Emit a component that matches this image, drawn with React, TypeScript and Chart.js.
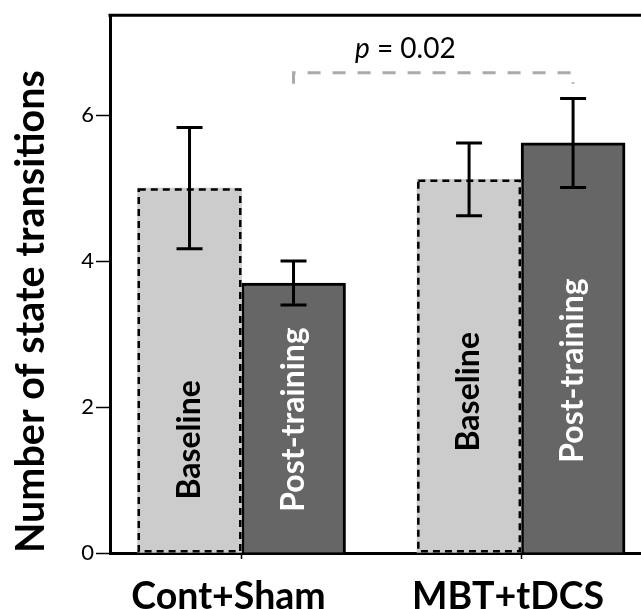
import React, { useEffect, useRef } from "react";
import { Chart, registerables } from "chart.js";

Chart.register(...registerables);

// ---- data ----
const groups = ["Cont+Sham", "MBT+tDCS"];
const seriesNames = ["Baseline", "Post-training"];
const baselineMeans = [5.0, 5.12];
const baselineErr = [0.83, 0.5];
const postMeans = [3.7, 5.62];
const postErr = [0.3, 0.61];
const yTicks = [0, 2, 4, 6];
const yTitle = "Number of state transitions";
const pValueText = "0.02";

const FONT = 'Lato, "Noto Sans", sans-serif';

const annotations = {
  id: "annotations",
  afterDatasetsDraw(chart: any) {
    const { ctx, chartArea, scales } = chart;
    const y = scales.y;
    const m0 = chart.getDatasetMeta(0);
    const m1 = chart.getDatasetMeta(1);
    ctx.save();

    // top frame line
    ctx.strokeStyle = "#000";
    ctx.lineWidth = 3;
    ctx.setLineDash([]);
    ctx.beginPath();
    ctx.moveTo(chartArea.left - 1.5, chartArea.top);
    ctx.lineTo(chartArea.right, chartArea.top);
    ctx.stroke();

    // dashed outline of baseline bars
    ctx.setLineDash([7, 5]);
    ctx.lineWidth = 2.5;
    m0.data.forEach((bar: any) => {
      const { x, y: top, base, width } = bar.getProps(["x", "y", "base", "width"], true);
      ctx.strokeRect(x - width / 2 + 1.25, top + 1.25, width - 2.5, base - top - 2.5);
    });
    ctx.setLineDash([]);

    // labels inside bars
    const labelCenters = [
      [1.55, 2.21],
      [1.83, 2.5],
    ];
    const labelColors = ["#000", "#fff"];
    [m0, m1].forEach((meta: any, si: number) => {
      meta.data.forEach((bar: any, j: number) => {
        ctx.save();
        ctx.translate(bar.x, y.getPixelForValue(labelCenters[si][j]));
        ctx.rotate(-Math.PI / 2);
        ctx.font = `bold 32px ${FONT}`;
        ctx.fillStyle = labelColors[si];
        ctx.textAlign = "center";
        ctx.textBaseline = "middle";
        ctx.fillText(seriesNames[si], 0, 0);
        ctx.restore();
      });
    });

    // error bars
    const means = [baselineMeans, postMeans];
    const errs = [baselineErr, postErr];
    ctx.strokeStyle = "#000";
    ctx.lineWidth = 3;
    [m0, m1].forEach((meta: any, si: number) => {
      meta.data.forEach((bar: any, j: number) => {
        const hi = y.getPixelForValue(means[si][j] + errs[si][j]);
        const lo = y.getPixelForValue(means[si][j] - errs[si][j]);
        const x = bar.x;
        ctx.beginPath();
        ctx.moveTo(x, hi);
        ctx.lineTo(x, lo);
        ctx.moveTo(x - 13, hi);
        ctx.lineTo(x + 13, hi);
        ctx.moveTo(x - 13, lo);
        ctx.lineTo(x + 13, lo);
        ctx.stroke();
      });
    });

    // significance bracket between post-training bars
    const xL = m1.data[0].x;
    const xR = m1.data[1].x;
    const yb = y.getPixelForValue(6.58);
    const yd = y.getPixelForValue(6.43);
    ctx.strokeStyle = "#aaaaaa";
    ctx.lineWidth = 3;
    ctx.setLineDash([13, 12]);
    ctx.beginPath();
    ctx.moveTo(xL, yd);
    ctx.lineTo(xL, yb);
    ctx.lineTo(xR, yb);
    ctx.lineTo(xR, yd);
    ctx.stroke();
    ctx.setLineDash([]);

    // p value text
    const ty = y.getPixelForValue(6.79);
    ctx.fillStyle = "#000";
    ctx.textBaseline = "alphabetic";
    ctx.textAlign = "left";
    const italic = `italic 28px ${FONT}`;
    const regular = `28px ${FONT}`;
    ctx.font = italic;
    const wP = ctx.measureText("p").width;
    ctx.font = regular;
    const rest = " = " + pValueText;
    const wR = ctx.measureText(rest).width;
    const cx = (xL + xR) / 2 - 28;
    const sx = cx - (wP + wR) / 2;
    ctx.font = italic;
    ctx.fillText("p", sx, ty);
    ctx.font = regular;
    ctx.fillText(rest, sx + wP, ty);

    ctx.restore();
  },
};

export default function App() {
  const canvasRef = useRef<HTMLCanvasElement | null>(null);

  useEffect(() => {
    if (!canvasRef.current) return;
    const chart = new Chart(canvasRef.current, {
      type: "bar",
      data: {
        datasets: [
          {
            label: seriesNames[0],
            data: baselineMeans.map((v, i) => ({ x: i, y: v })),
            backgroundColor: "#cccccc",
            borderWidth: 0,
            barThickness: 104,
          },
          {
            label: seriesNames[1],
            data: postMeans.map((v, i) => ({ x: i, y: v })),
            backgroundColor: "#666666",
            borderColor: "#000000",
            borderWidth: 3,
            barThickness: 104,
          },
        ],
      } as any,
      options: {
        animation: false,
        responsive: true,
        maintainAspectRatio: false,
        layout: { padding: { top: 10, left: 0, right: 0, bottom: 0 } },
        plugins: {
          legend: { display: false },
          tooltip: { enabled: false },
        },
        scales: {
          x: {
            type: "linear",
            min: -0.4705,
            max: 1.429,
            offset: false,
            z: 1,
            grid: {
              offset: false,
              drawOnChartArea: false,
              drawTicks: true,
              tickLength: 6,
              tickWidth: 1.5,
              tickColor: "#000",
            },
            border: { display: true, color: "#000", width: 3 },
            afterBuildTicks: (s: any) => {
              s.ticks = groups.map((_, i) => ({ value: i }));
            },
            afterFit: (s: any) => {
              s.height = 56;
            },
            ticks: {
              callback: (_v: any, i: number) => groups[i],
              font: { family: FONT, size: 37.5, weight: "bold" },
              color: "#000",
              padding: 15,
              labelOffset: -13,
              maxRotation: 0,
              autoSkip: false,
            },
          },
          y: {
            min: 0,
            max: 7.37,
            z: 1,
            grid: {
              drawOnChartArea: false,
              drawTicks: true,
              tickLength: 14,
              tickWidth: 1.5,
              tickColor: "#000",
            },
            border: { display: true, color: "#000", width: 3 },
            afterBuildTicks: (s: any) => {
              s.ticks = yTicks.map((v) => ({ value: v }));
            },
            afterFit: (s: any) => {
              s.width = 110;
            },
            ticks: {
              font: { family: FONT, size: 22 },
              color: "#000",
              padding: 2,
            },
            title: {
              display: true,
              text: yTitle,
              align: "start",
              color: "#000",
              font: { family: FONT, size: 39.5, weight: "bold" },
              padding: { top: 8, bottom: 0 },
            },
          },
        },
      } as any,
      plugins: [annotations],
    });
    return () => chart.destroy();
  }, []);

  return (
    <div style={{ position: "absolute", left: 0, top: 0, width: 641, height: 609 }}>
      <canvas ref={canvasRef} />
    </div>
  );
}
